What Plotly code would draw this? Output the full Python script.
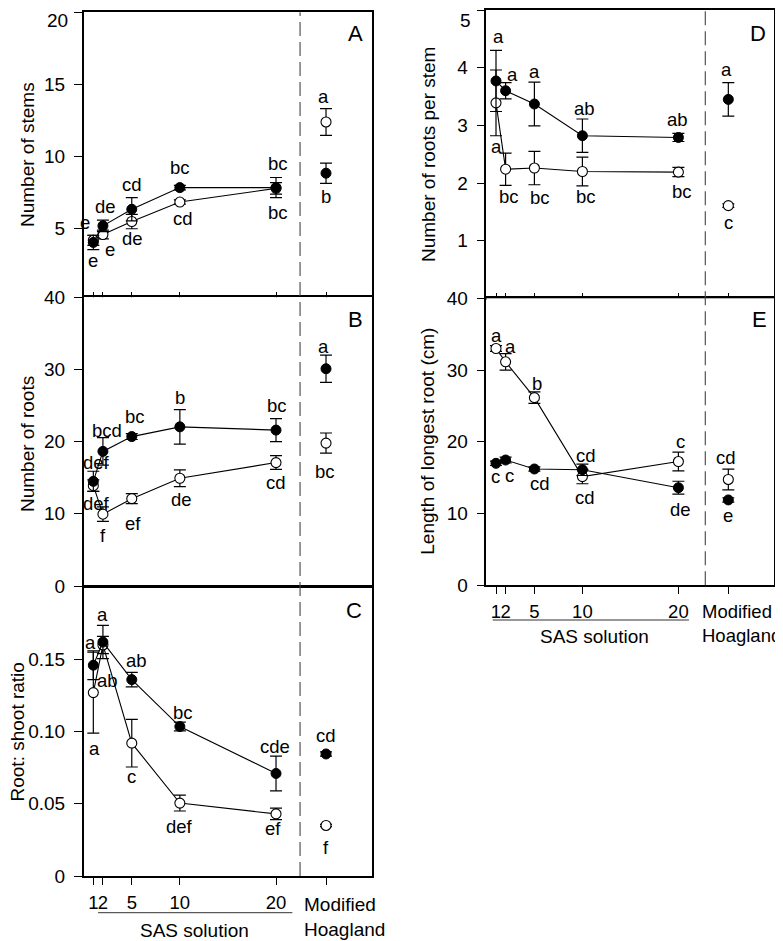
import plotly.graph_objects as go

W, H = 783, 941
OFF = 8  # page body margin of the browser, compensated in layout

# ---------------- data ----------------
sas_x = [1, 2, 5, 10, 20]
hoag_x = [25.2]

# A: Number of stems
A_filled = [4.05, 5.2, 6.35, 7.85, 7.85]
A_filled_err = [0.5, 0.4, 0.8, 0.15, 0.7]
A_open = [4.2, 4.6, 5.5, 6.85, 7.8]
A_open_err = [0.35, 0.3, 0.5, 0.15, 0.4]
A_hoag_filled, A_hoag_filled_err = [8.85], [0.7]
A_hoag_open, A_hoag_open_err = [12.4], [0.93]

# B: Number of roots
B_filled = [14.5, 18.65, 20.7, 22.05, 21.6]
B_filled_err = [1.4, 1.9, 0.4, 2.4, 1.6]
B_open = [13.9, 9.95, 12.1, 14.93, 17.1]
B_open_err = [0.8, 1.0, 0.7, 1.15, 0.95]
B_hoag_filled, B_hoag_filled_err = [30.1], [1.9]
B_hoag_open, B_hoag_open_err = [19.8], [1.4]

# C: Root: shoot ratio
C_filled = [0.146, 0.162, 0.136, 0.1035, 0.071]
C_filled_err = [0.01, 0.0115, 0.005, 0.003, 0.012]
C_open = [0.127, 0.160, 0.092, 0.0505, 0.043]
C_open_err = [0.028, 0.006, 0.0165, 0.0055, 0.004]
C_hoag_filled, C_hoag_filled_err = [0.0845], [0.0015]
C_hoag_open, C_hoag_open_err = [0.035], [0.0008]

# D: Number of roots per stem
D_filled = [3.77, 3.6, 3.37, 2.82, 2.79]
D_filled_err = [0.53, 0.14, 0.38, 0.29, 0.07]
D_open = [3.39, 2.24, 2.26, 2.2, 2.19]
D_open_err = [0.57, 0.28, 0.29, 0.25, 0.08]
D_hoag_filled, D_hoag_filled_err = [3.45], [0.29]
D_hoag_open, D_hoag_open_err = [1.608], [0.03]

# E: Length of longest root (cm)
E_filled = [17.0, 17.46, 16.21, 16.1, 13.6]
E_filled_err = [0.3, 0.4, 0.3, 0.8, 0.9]
E_open = [33.0, 31.15, 26.15, 15.15, 17.25]
E_open_err = [0.4, 1.15, 0.8, 1.0, 1.3]
E_hoag_filled, E_hoag_filled_err = [11.9], [0.3]
E_hoag_open, E_hoag_open_err = [14.75], [1.45]

# y tick values
A_ticks = [5, 10, 15, 20]
B_ticks = [0, 10, 20, 30, 40]
C_ticks = [0, 0.05, 0.10, 0.15]
C_ticktext = ["0", "0.05", "0.10", "0.15"]
D_ticks = [1, 2, 3, 4, 5]
E_ticks = [0, 10, 20, 30, 40]

# significance letters: (series, index, text)
A_letters = [("f", 0, "e"), ("o", 0, "e"), ("f", 1, "de"), ("o", 1, "e"),
             ("f", 2, "cd"), ("o", 2, "de"), ("f", 3, "bc"), ("o", 3, "cd"),
             ("f", 4, "bc"), ("o", 4, "bc"), ("ho", 0, "a"), ("hf", 0, "b")]
B_letters = [("f", 0, "def"), ("o", 0, "def"), ("f", 1, "bcd"), ("o", 1, "f"),
             ("f", 2, "bc"), ("o", 2, "ef"), ("f", 3, "b"), ("o", 3, "de"),
             ("f", 4, "bc"), ("o", 4, "cd"), ("hf", 0, "a"), ("ho", 0, "bc")]
C_letters = [("f", 0, "a"), ("o", 0, "a"), ("f", 1, "a"), ("o", 1, "ab"),
             ("f", 2, "ab"), ("o", 2, "c"), ("f", 3, "bc"), ("o", 3, "def"),
             ("f", 4, "cde"), ("o", 4, "ef"), ("hf", 0, "cd"), ("ho", 0, "f")]
D_letters = [("f", 0, "a"), ("o", 0, "a"), ("f", 1, "a"), ("o", 1, "bc"),
             ("f", 2, "a"), ("o", 2, "bc"), ("f", 3, "ab"), ("o", 3, "bc"),
             ("f", 4, "ab"), ("o", 4, "bc"), ("hf", 0, "a"), ("ho", 0, "c")]
E_letters = [("o", 0, "a"), ("o", 1, "a"), ("o", 2, "b"), ("f", 0, "c"),
             ("f", 1, "c"), ("f", 2, "cd"), ("f", 3, "cd"), ("o", 3, "cd"),
             ("o", 4, "c"), ("f", 4, "de"), ("ho", 0, "cd"), ("hf", 0, "e")]

# pixel offsets of letters from their points (dx right, dy down) - layout only
A_off = [(0, 18), (-8, -18), (3, -19), (7, 15), (0, -25), (1, 17), (0, -20), (3, 16),
         (2, -24), (2, 24), (-3, -25), (0, 23)]
B_off = [(3, -19), (3, 18), (4, -21), (0, 21), (3, -20), (1, 25), (0, -29), (2, 21),
         (1, -25), (0, 20), (-3, -22), (-1, 28)]
C_off = [(-3, -23), (1, 56), (0, -28), (5, 36), (5, -19), (0, 33), (3, -14), (0, 23),
         (-1, -27), (-3, 15), (0, -18), (0, 22)]
D_off = [(2, -44), (0, 44), (7, -16), (3, 27), (0, -33), (6, 29), (2, -27), (4, 25),
         (-1, -18), (4, 19), (-2, -30), (0, 17)]
E_off = [(0, -13), (5, -15), (3, -14), (-1, 13), (4, 15), (6, 15), (4, -14), (3, 21),
         (2, -20), (2, 22), (-2, -22), (0, 16)]

FONT = "Liberation Sans, Arial, sans-serif"


def px(x):
    return (x - OFF) / W


def py(y):
    return 1 - (y - OFF) / H


fig = go.Figure()
annotations = []
shapes = []

panels = [
    dict(n=1, f=A_filled, fe=A_filled_err, o=A_open, oe=A_open_err,
         hf=A_hoag_filled, hfe=A_hoag_filled_err, ho=A_hoag_open, hoe=A_hoag_open_err,
         letters=A_letters, off=A_off),
    dict(n=2, f=B_filled, fe=B_filled_err, o=B_open, oe=B_open_err,
         hf=B_hoag_filled, hfe=B_hoag_filled_err, ho=B_hoag_open, hoe=B_hoag_open_err,
         letters=B_letters, off=B_off),
    dict(n=3, f=C_filled, fe=C_filled_err, o=C_open, oe=C_open_err,
         hf=C_hoag_filled, hfe=C_hoag_filled_err, ho=C_hoag_open, hoe=C_hoag_open_err,
         letters=C_letters, off=C_off),
    dict(n=4, f=D_filled, fe=D_filled_err, o=D_open, oe=D_open_err,
         hf=D_hoag_filled, hfe=D_hoag_filled_err, ho=D_hoag_open, hoe=D_hoag_open_err,
         letters=D_letters, off=D_off),
    dict(n=5, f=E_filled, fe=E_filled_err, o=E_open, oe=E_open_err,
         hf=E_hoag_filled, hfe=E_hoag_filled_err, ho=E_hoag_open, hoe=E_hoag_open_err,
         letters=E_letters, off=E_off),
]

open_marker = dict(symbol="circle", size=10, color="white", line=dict(color="black", width=1.1))
fill_marker = dict(symbol="circle", size=10, color="black", line=dict(color="black", width=1))


def err(a):
    return dict(type="data", array=a, visible=True, color="black", thickness=1.2, width=6)


for p in panels:
    n = p["n"]
    xa = "x" if n == 1 else f"x{n}"
    ya = "y" if n == 1 else f"y{n}"
    common = dict(xaxis=xa, yaxis=ya, showlegend=False, hoverinfo="skip")
    fig.add_trace(go.Scatter(x=sas_x, y=p["o"], mode="lines+markers", marker=open_marker,
                             line=dict(color="black", width=1.1), error_y=err(p["oe"]), **common))
    fig.add_trace(go.Scatter(x=hoag_x, y=p["ho"], mode="markers", marker=open_marker,
                             error_y=err(p["hoe"]), **common))
    fig.add_trace(go.Scatter(x=sas_x, y=p["f"], mode="lines+markers", marker=fill_marker,
                             line=dict(color="black", width=1.1), error_y=err(p["fe"]), **common))
    fig.add_trace(go.Scatter(x=hoag_x, y=p["hf"], mode="markers", marker=fill_marker,
                             error_y=err(p["hfe"]), **common))
    src = {"f": (sas_x, p["f"]), "o": (sas_x, p["o"]),
           "hf": (hoag_x, p["hf"]), "ho": (hoag_x, p["ho"])}
    for (s, i, t), (dx, dy) in zip(p["letters"], p["off"]):
        xs, ys = src[s]
        annotations.append(dict(x=xs[i], y=ys[i], xref=xa, yref=ya, text=t, showarrow=False,
                                xshift=dx, yshift=-dy, xanchor="center", yanchor="middle",
                                font=dict(size=18.5, color="black", family=FONT)))

# ---------------- axes (layout) ----------------
left_dom = [px(83.7), px(83.7 + 30 * 9.616)]
right_dom = [px(486.4), px(486.4 + 30 * 9.6)]
A_dom = [py(298), py(12.3)]
B_dom = [py(586), py(297.3)]
C_dom = [py(876), py(587.2)]
D_dom = [py(298.4), py(10)]
E_dom = [py(585.3), py(298.3)]

tick_font = dict(size=19, color="black", family=FONT)
xt_vals = sas_x + hoag_x
xt_text = [str(v) for v in sas_x] + [""]


def xaxis(dom, anchor, mode):
    d = dict(domain=dom, range=[0, 30], anchor=anchor, showgrid=False, zeroline=False,
             showline=True, linecolor="black", linewidth=1.5, mirror=True, automargin=False,
             tickvals=xt_vals, ticktext=xt_text, tickcolor="black", tickwidth=1.3,
             tickangle=0, ticklabeloverflow="allow",
             tickfont=dict(size=18.5, color="black", family=FONT))
    if mode == "inside":
        d.update(ticks="inside", ticklen=6, showticklabels=False)
    elif mode == "outside":
        d.update(ticks="outside", ticklen=7, showticklabels=True, ticklabelstandoff=2)
    else:
        d.update(ticks="", showticklabels=False)
    return d


def yaxis(dom, anchor, rng, vals, text):
    return dict(domain=dom, range=rng, anchor=anchor, showgrid=False, zeroline=False,
                showline=True, linecolor="black", linewidth=1.5, mirror=True, automargin=False,
                ticks="outside", ticklen=8, tickcolor="black", tickwidth=1.3,
                tickvals=vals, ticktext=text, tickfont=tick_font, ticklabelstandoff=5,
                ticklabeloverflow="allow")


# top-most tick labels of A and D sit at the very page edge; they are drawn as
# annotations nudged a few px down so they are not cut off
A_text = [str(v) for v in A_ticks[:-1]] + [""]
D_text = [str(v) for v in D_ticks[:-1]] + [""]

layout = dict(
    template="none",
    width=W, height=H, margin=dict(l=0, r=0, t=0, b=0, pad=0), autosize=False,
    paper_bgcolor="white", plot_bgcolor="white",
    font=dict(family=FONT, color="black"),
    xaxis=xaxis(left_dom, "y", "inside"),
    xaxis2=xaxis(left_dom, "y2", "none"),
    xaxis3=xaxis(left_dom, "y3", "outside"),
    xaxis4=xaxis(right_dom, "y4", "inside"),
    xaxis5=xaxis(right_dom, "y5", "outside"),
    yaxis=yaxis(A_dom, "x", [0.2, 20], A_ticks, A_text),
    yaxis2=yaxis(B_dom, "x2", [0, 40], B_ticks, [str(v) for v in B_ticks]),
    yaxis3=yaxis(C_dom, "x3", [0, 0.2], C_ticks, C_ticktext),
    yaxis4=yaxis(D_dom, "x4", [0, 5], D_ticks, D_text),
    yaxis5=yaxis(E_dom, "x5", [0, 40], E_ticks, [str(v) for v in E_ticks]),
)

# dashed separators
shapes.append(dict(type="line", xref="x3", yref="paper", x0=22.5, x1=22.5,
                   y0=C_dom[0], y1=A_dom[1], line=dict(color="#444", width=1.1, dash="14px,6px")))
shapes.append(dict(type="line", xref="x5", yref="paper", x0=22.8, x1=22.8,
                   y0=E_dom[0], y1=D_dom[1], line=dict(color="#444", width=1.1, dash="14px,6px")))
# "SAS solution" brackets
shapes.append(dict(type="line", xref="x3", yref="paper", x0=1.5, x1=21.7,
                   y0=py(912.7), y1=py(912.7), line=dict(color="#333", width=1)))
shapes.append(dict(type="line", xref="x5", yref="paper", x0=0.66, x1=21.1,
                   y0=py(620), y1=py(620), line=dict(color="#333", width=1)))


def paper_text(x, y, t, size=19, angle=0, xanchor="center"):
    annotations.append(dict(x=px(x), y=py(y), xref="paper", yref="paper", text=t,
                            showarrow=False, xanchor=xanchor, yanchor="middle",
                            textangle=angle, align="left",
                            font=dict(size=size, color="black", family=FONT)))


paper_text(69.5, 20, str(A_ticks[-1]), xanchor="right")
paper_text(472.5, 20, str(D_ticks[-1]), xanchor="right")

paper_text(194, 930, "SAS solution")
paper_text(594, 636.7, "SAS solution")
paper_text(302, 916.5, "Modified<br>Hoagland", xanchor="left")
paper_text(700, 623.3, "Modified<br>Hoagland", size=18.5, xanchor="left")

for L, (x, y) in zip(["A", "B", "C", "D", "E"],
                     [(355.3, 33.3), (355, 319.3), (354, 610), (757.7, 33.3), (759.3, 320)]):
    paper_text(x, y, L, size=22)

paper_text(27, 155, "Number of stems", angle=-90)
paper_text(27, 444, "Number of roots", angle=-90)
paper_text(17, 732.5, "Root: shoot ratio", angle=-90)
paper_text(428, 155, "Number of roots per stem", angle=-90)
paper_text(428, 441.7, "Length of longest root (cm)", angle=-90)

layout["annotations"] = annotations
layout["shapes"] = shapes
fig.update_layout(**layout)

fig.write_html("out.html")
